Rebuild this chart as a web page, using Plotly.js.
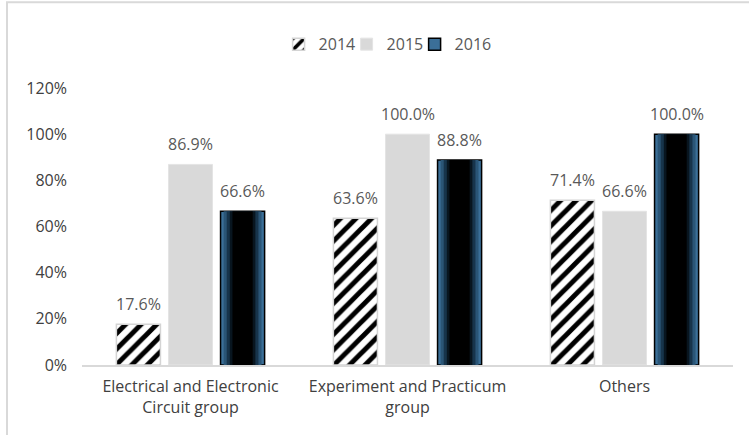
<!DOCTYPE html>
<html><head><meta charset="utf-8">
<script src="https://cdn.plot.ly/plotly-3.0.1.min.js"></script>
<style>html,body{margin:0;padding:0;background:#fff}#chart{width:749px;height:435px}</style>
</head><body><div id="chart"></div>
<script>
// ---- data ----
const categories = ["Electrical and Electronic<br>Circuit group", "Experiment and Practicum<br>group", "Others"];
const years = ["2014", "2015", "2016"];
const values2014 = [0.176, 0.636, 0.714];
const values2015 = [0.869, 1.000, 0.666];
const values2016 = [0.666, 0.888, 1.000];
const yTickVals = [0, 0.2, 0.4, 0.6, 0.8, 1.0, 1.2];
const yTickText = ["0%", "20%", "40%", "60%", "80%", "100%", "120%"];

// ---- styling ----
const FONT = "Open Sans, Liberation Sans, sans-serif";
const BW = 0.203;                 // bar width (category units)
const centers = [-0.24, 0, 0.24]; // bar centre offsets within a group
const series = [values2014, values2015, values2016];

const traces = [];
traces.push({
  type: 'bar', name: years[0], x: categories, y: values2014,
  width: BW, offset: centers[0] - BW / 2,
  marker: {color: '#ffffff', line: {color: '#d4d4d4', width: 1.5},
           pattern: {shape: '/', fgcolor: '#000000', bgcolor: '#ffffff', size: 11, solidity: 0.45}},
  hoverinfo: 'skip'
});
traces.push({
  type: 'bar', name: years[1], x: categories, y: values2015,
  width: BW, offset: centers[1] - BW / 2,
  marker: {color: '#d9d9d9', line: {color: '#e4e4e4', width: 1}},
  hoverinfo: 'skip'
});
traces.push({
  type: 'bar', name: years[2], x: categories, y: values2016,
  width: BW, offset: centers[2] - BW / 2, legendwidth: 45,
  marker: {color: '#3b6f98', line: {color: '#000000', width: 1.5}},
  hoverinfo: 'skip'
});
// inner glow layers for 2016 (same data, narrower, darker)
const glow = [[0.86, '#2a5576'], [0.72, '#17344b'], [0.58, '#08151f'], [0.46, '#000000']];
glow.forEach(([f, c]) => {
  traces.push({
    type: 'bar', name: years[2], x: categories, y: values2016, showlegend: false,
    width: BW * f, offset: centers[2] - BW * f / 2,
    marker: {color: c, line: {width: 0}}, hoverinfo: 'skip'
  });
});

const annotations = [];
series.forEach((vals, s) => {
  vals.forEach((v, i) => {
    annotations.push({
      xref: 'x', yref: 'y', x: i + centers[s], y: v, yshift: 20,
      text: (v * 100).toFixed(1) + '%', showarrow: false,
      font: {family: FONT, size: 16, color: '#595959'}
    });
  });
});

const layout = {
  width: 749, height: 435,
  margin: {l: 82, r: 16, t: 88, b: 70, pad: 0},
  paper_bgcolor: '#ffffff', plot_bgcolor: '#ffffff',
  barmode: 'overlay',
  font: {family: FONT, size: 16, color: '#595959'},
  showlegend: true,
  legend: {orientation: 'h', x: 0.302, xanchor: 'left', y: 1.158, yanchor: 'middle',
           entrywidth: 23, font: {family: FONT, size: 16, color: '#595959'},
           bgcolor: 'rgba(0,0,0,0)', traceorder: 'normal'},
  xaxis: {type: 'category', showline: true, linecolor: '#d9d9d9', linewidth: 2,
          ticks: '', showgrid: false, zeroline: false, automargin: false,
          ticklabelstandoff: 6,
          tickfont: {family: FONT, size: 16, color: '#404040'}},
  yaxis: {range: [0, 1.2], tickvals: yTickVals, ticktext: yTickText,
          showline: false, showgrid: false, zeroline: false, ticks: '',
          ticklabelstandoff: 14, automargin: false,
          tickfont: {family: FONT, size: 16, color: '#404040'}},
  annotations: annotations,
  shapes: [{type: 'rect', xref: 'paper', yref: 'paper',
            x0: -0.1152, x1: 1.3, y0: 1.31, y1: -0.6,
            line: {color: '#d9d9d9', width: 2}, fillcolor: 'rgba(0,0,0,0)', layer: 'below'}]
};

Plotly.newPlot('chart', traces, layout, {displayModeBar: false, staticPlot: true});
</script>
</body></html>
